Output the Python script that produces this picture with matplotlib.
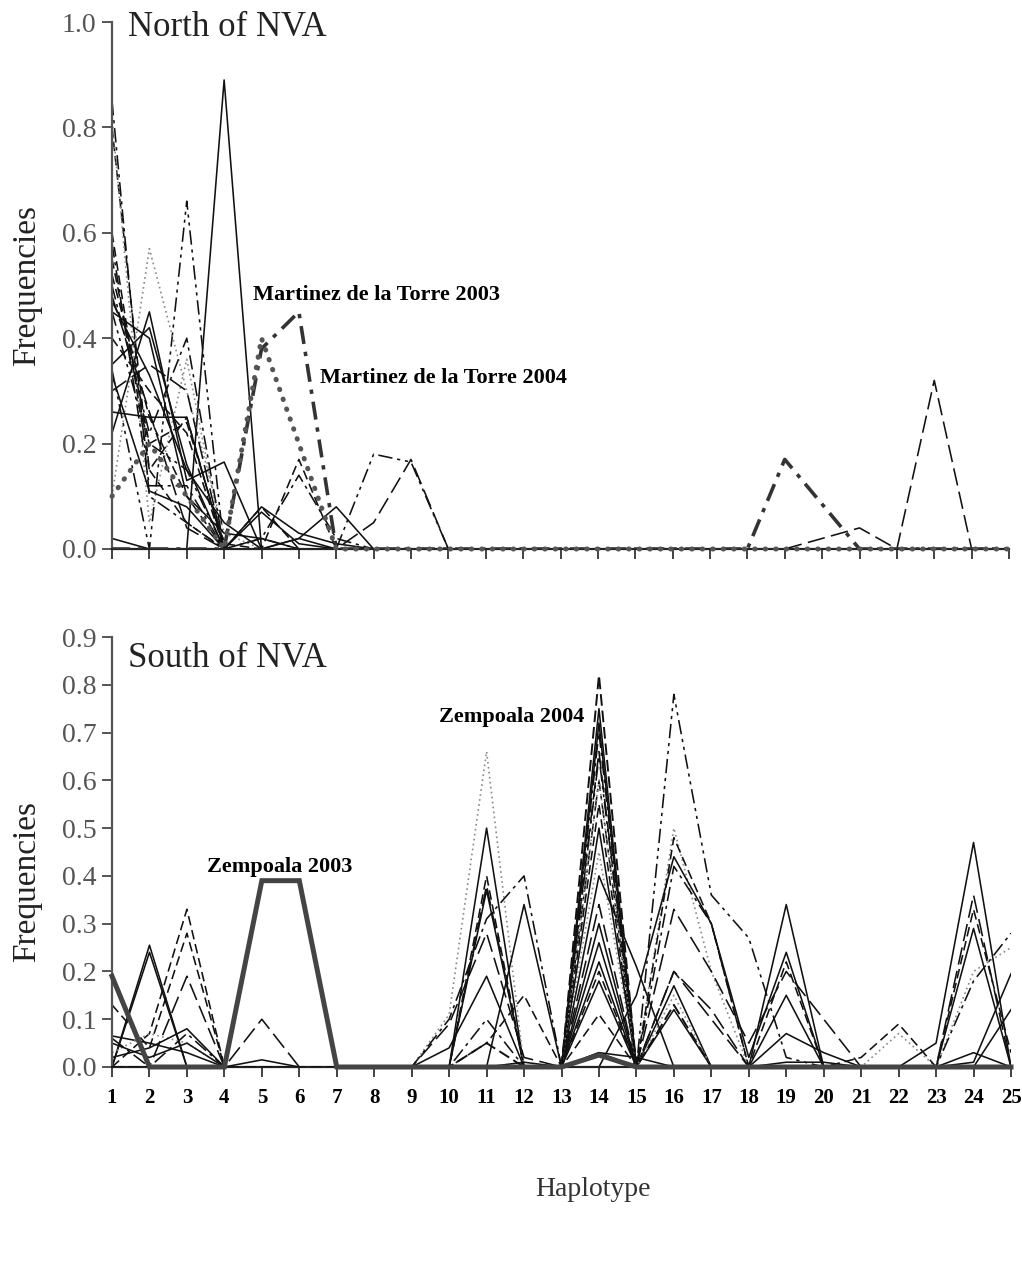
import matplotlib
matplotlib.use("Agg")
import matplotlib.pyplot as plt
import numpy as np

plt.rcParams['font.family'] = ['Liberation Serif', 'DejaVu Serif']

haplotypes = list(range(1, 26))

# ---------------- North of NVA (top panel) ----------------
n01 = [0.02, 0, 0, 0.89, 0, 0.02, 0.08, 0, 0, 0, 0, 0, 0, 0, 0, 0, 0, 0, 0, 0, 0, 0, 0, 0, 0]
n02 = [0.85, 0.10, 0.05, 0, 0, 0, 0, 0, 0, 0, 0, 0, 0, 0, 0, 0, 0, 0, 0, 0, 0, 0, 0, 0, 0]
n03 = [0.80, 0.15, 0.05, 0, 0, 0, 0, 0, 0, 0, 0, 0, 0, 0, 0, 0, 0, 0, 0, 0, 0, 0, 0, 0, 0]
n04 = [0.34, 0, 0.66, 0, 0, 0, 0, 0, 0, 0, 0, 0, 0, 0, 0, 0, 0, 0, 0, 0, 0, 0, 0, 0, 0]
n05 = [0.10, 0.57, 0.30, 0.03, 0, 0, 0, 0, 0, 0, 0, 0, 0, 0, 0, 0, 0, 0, 0, 0, 0, 0, 0, 0, 0]
n06 = [0.82, 0.05, 0.36, 0, 0, 0, 0, 0, 0, 0, 0, 0, 0, 0, 0, 0, 0, 0, 0, 0, 0, 0, 0, 0, 0]
n07 = [0.47, 0.33, 0.15, 0.05, 0, 0, 0, 0, 0, 0, 0, 0, 0, 0, 0, 0, 0, 0, 0, 0, 0, 0, 0, 0, 0]
n08 = [0.45, 0.40, 0.10, 0.03, 0.02, 0, 0, 0, 0, 0, 0, 0, 0, 0, 0, 0, 0, 0, 0, 0, 0, 0, 0, 0, 0]
n09 = [0.35, 0.42, 0.16, 0, 0.07, 0.01, 0, 0, 0, 0, 0, 0, 0, 0, 0, 0, 0, 0, 0, 0, 0, 0, 0, 0, 0]
n10 = [0.22, 0.45, 0.13, 0.165, 0, 0, 0, 0, 0, 0, 0, 0, 0, 0, 0, 0, 0, 0, 0, 0, 0, 0, 0, 0, 0]
n11 = [0.33, 0.11, 0.08, 0, 0, 0.02, 0, 0, 0, 0, 0, 0, 0, 0, 0, 0, 0, 0, 0, 0, 0, 0, 0, 0, 0]
n12 = [0.60, 0.15, 0.25, 0, 0, 0, 0, 0, 0, 0, 0, 0, 0, 0, 0, 0, 0, 0, 0, 0, 0, 0, 0, 0, 0]
n13 = [0.55, 0.20, 0.24, 0.01, 0, 0, 0, 0, 0, 0, 0, 0, 0, 0, 0, 0, 0, 0, 0, 0, 0, 0, 0, 0, 0]
n14 = [0.50, 0.22, 0.40, 0, 0, 0, 0, 0, 0, 0, 0, 0, 0, 0, 0, 0, 0, 0, 0, 0, 0, 0, 0, 0, 0]
n15 = [0.52, 0.25, 0.10, 0, 0, 0.17, 0, 0, 0, 0, 0, 0, 0, 0, 0, 0, 0, 0, 0, 0, 0, 0, 0, 0, 0]
n16 = [0.58, 0.12, 0.12, 0, 0.02, 0.14, 0.02, 0, 0, 0, 0, 0, 0, 0, 0, 0, 0, 0, 0, 0, 0, 0, 0, 0, 0]
n17 = [0.40, 0.30, 0.22, 0, 0.08, 0, 0, 0, 0, 0, 0, 0, 0, 0, 0, 0, 0, 0, 0, 0, 0, 0, 0, 0, 0]
n18 = [0.45, 0.20, 0.15, 0, 0.02, 0, 0, 0.18, 0.165, 0, 0, 0, 0, 0, 0, 0, 0, 0, 0, 0, 0, 0, 0, 0, 0]
n19 = [0.48, 0.26, 0.04, 0, 0, 0, 0, 0.05, 0.17, 0, 0, 0, 0, 0, 0, 0, 0, 0, 0, 0, 0, 0, 0, 0, 0]
n20 = [0.30, 0.35, 0.30, 0, 0, 0, 0, 0, 0, 0, 0, 0, 0, 0, 0, 0, 0, 0, 0, 0.02, 0.04, 0, 0.32, 0, 0]
n21 = [0.26, 0.25, 0.25, 0, 0.08, 0.03, 0.01, 0, 0, 0, 0, 0, 0, 0, 0, 0, 0, 0, 0, 0, 0, 0, 0, 0, 0]
martinez_2003 = [0, 0, 0, 0, 0.38, 0.45, 0, 0, 0, 0, 0, 0, 0, 0, 0, 0, 0, 0, 0.17, 0.085, 0, 0, 0, 0, 0]
martinez_2004 = [0.10, 0.20, 0.10, 0, 0.40, 0.20, 0, 0, 0, 0, 0, 0, 0, 0, 0, 0, 0, 0, 0, 0, 0, 0, 0, 0, 0]

north_series = [n01, n02, n03, n04, n05, n06, n07, n08, n09, n10, n11,
                n12, n13, n14, n15, n16, n17, n18, n19, n20, n21]
north_styles = ['solid', 'dashdot', 'dashed', 'dashdotdot', 'greydot', 'greydot', 'solid',
                'solid', 'solid', 'solid', 'solid', 'dashed', 'dashed', 'dashdot', 'dashed',
                'dashdot', 'dashed', 'dashdotdot', 'longdash', 'longdash', 'solid']

# ---------------- South of NVA (bottom panel) ----------------
s01 = [0, 0.255, 0, 0, 0, 0, 0, 0, 0, 0, 0.50, 0, 0, 0.22, 0, 0, 0, 0, 0, 0, 0, 0, 0, 0, 0]
s02 = [0, 0.24, 0, 0, 0, 0, 0, 0, 0, 0, 0, 0, 0, 0.72, 0, 0, 0, 0, 0, 0, 0, 0, 0, 0, 0]
s03 = [0, 0.07, 0.33, 0, 0, 0, 0, 0, 0, 0, 0.40, 0, 0, 0.20, 0, 0, 0, 0, 0, 0, 0, 0, 0, 0, 0]
s04 = [0.13, 0.04, 0.28, 0, 0, 0, 0, 0, 0, 0, 0, 0, 0, 0.55, 0, 0, 0, 0, 0, 0, 0, 0, 0, 0, 0]
s05 = [0, 0, 0.19, 0, 0, 0, 0, 0, 0, 0, 0.38, 0, 0, 0.34, 0, 0.20, 0.10, 0, 0, 0, 0, 0, 0, 0, 0]
s06 = [0.065, 0.05, 0.03, 0, 0, 0, 0, 0, 0, 0, 0.37, 0, 0, 0.30, 0, 0, 0, 0, 0.34, 0, 0, 0, 0, 0, 0]
s07 = [0, 0, 0, 0, 0, 0, 0, 0, 0, 0.11, 0.66, 0, 0, 0.45, 0, 0.50, 0.20, 0, 0, 0, 0, 0.07, 0, 0.20, 0.25]
s08 = [0, 0, 0, 0, 0, 0, 0, 0, 0, 0, 0, 0, 0, 0.65, 0, 0.78, 0.36, 0.27, 0.02, 0, 0, 0, 0, 0, 0]
s09 = [0, 0, 0, 0, 0, 0, 0, 0, 0, 0.04, 0.19, 0, 0, 0.26, 0, 0.12, 0, 0, 0.15, 0, 0, 0, 0, 0.29, 0]
s10 = [0, 0, 0, 0, 0, 0, 0, 0, 0, 0.10, 0.31, 0.40, 0, 0.60, 0, 0.42, 0.30, 0, 0, 0, 0, 0, 0, 0, 0]
s11 = [0, 0, 0, 0, 0, 0, 0, 0, 0, 0, 0, 0.34, 0, 0.40, 0.21, 0, 0, 0, 0, 0, 0, 0, 0, 0, 0]
s12 = [0, 0, 0, 0, 0, 0, 0, 0, 0, 0, 0.05, 0.15, 0, 0.11, 0, 0.48, 0.30, 0, 0.22, 0, 0, 0, 0, 0, 0]
s13 = [0, 0, 0, 0, 0, 0, 0, 0, 0, 0, 0, 0, 0, 0, 0.15, 0.44, 0.30, 0.02, 0.24, 0, 0, 0, 0, 0, 0]
s14 = [0, 0, 0, 0, 0, 0, 0, 0, 0, 0, 0, 0, 0, 0, 0, 0.33, 0.20, 0.05, 0.20, 0.10, 0, 0, 0, 0.36, 0]
s15 = [0, 0, 0, 0, 0, 0, 0, 0, 0, 0, 0, 0, 0, 0, 0, 0, 0, 0, 0.07, 0.03, 0, 0, 0.05, 0.47, 0]
s16 = [0, 0, 0, 0, 0, 0, 0, 0, 0, 0, 0, 0, 0, 0, 0, 0, 0, 0, 0, 0, 0.02, 0.09, 0, 0.33, 0.03]
s17 = [0, 0, 0, 0, 0, 0, 0, 0, 0, 0, 0, 0, 0, 0, 0, 0, 0, 0, 0, 0, 0, 0, 0, 0.18, 0.28]
s18 = [0, 0, 0, 0, 0, 0, 0, 0, 0, 0, 0, 0, 0, 0.75, 0, 0, 0, 0, 0, 0, 0, 0, 0, 0.01, 0.195]
s19 = [0, 0, 0, 0, 0, 0, 0, 0, 0, 0, 0, 0, 0, 0.50, 0, 0.17, 0, 0, 0, 0, 0, 0, 0, 0, 0.12]
s20 = [0, 0, 0, 0, 0, 0, 0, 0, 0, 0, 0, 0, 0, 0.66, 0, 0.20, 0.12, 0, 0, 0, 0, 0, 0, 0, 0]
s21 = [0.03, 0.07, 0.05, 0, 0, 0, 0, 0, 0, 0, 0, 0, 0, 0.60, 0, 0.15, 0, 0, 0, 0, 0, 0, 0, 0, 0]
s22 = [0.02, 0.04, 0.08, 0, 0.015, 0, 0, 0, 0, 0, 0, 0, 0, 0.18, 0, 0, 0, 0, 0, 0, 0, 0, 0, 0, 0]
s23 = [0, 0, 0, 0, 0.10, 0, 0, 0, 0, 0.09, 0.28, 0.02, 0, 0.03, 0, 0, 0, 0, 0, 0, 0, 0, 0, 0, 0]
s24 = [0.05, 0.02, 0.05, 0, 0, 0, 0, 0, 0, 0, 0, 0.01, 0, 0.03, 0.02, 0, 0, 0, 0.01, 0.01, 0, 0, 0, 0.03, 0]
s25 = [0.06, 0.0, 0.07, 0, 0, 0, 0, 0, 0, 0, 0.10, 0, 0, 0.70, 0, 0, 0, 0, 0, 0, 0, 0, 0, 0, 0]
zempoala_2003 = [0.19, 0, 0, 0, 0.39, 0.39, 0, 0, 0, 0, 0, 0, 0, 0.025, 0, 0, 0, 0, 0, 0, 0, 0, 0, 0, 0]
zempoala_2004 = [0, 0, 0, 0, 0, 0, 0, 0, 0, 0, 0.05, 0, 0, 0.82, 0, 0.13, 0, 0, 0, 0, 0, 0, 0, 0, 0]

south_series = [s01, s02, s03, s04, s05, s06, s07, s08, s09, s10, s11, s12, s13,
                s14, s15, s16, s17, s18, s19, s20, s21, s22, s23, s24, s25]
south_styles = ['solid', 'solid', 'dashed', 'dashed', 'longdash', 'solid', 'greydot',
                'dashdotdot', 'solid', 'dashdot', 'solid', 'dashed', 'solid', 'longdash',
                'solid', 'dashed', 'dashdot', 'solid', 'solid', 'longdash', 'greydot',
                'solid', 'longdash', 'solid', 'dashdot']

north_ticks = [0.0, 0.2, 0.4, 0.6, 0.8, 1.0]
south_ticks = [0.0, 0.1, 0.2, 0.3, 0.4, 0.5, 0.6, 0.7, 0.8, 0.9]

STYLES = {
    'solid': dict(color='#111111', lw=1.15, ls='-'),
    'dashed': dict(color='#111111', lw=1.15, ls=(0, (6, 3))),
    'longdash': dict(color='#111111', lw=1.15, ls=(0, (11, 4))),
    'dashdot': dict(color='#111111', lw=1.15, ls=(0, (9, 3, 2, 3))),
    'dashdotdot': dict(color='#111111', lw=1.15, ls=(0, (9, 3, 2, 3, 2, 3))),
    'greydot': dict(color='#888888', lw=1.2, ls=(0, (1, 2))),
}

fig = plt.figure(figsize=(10.22, 12.67), dpi=100)
ax1 = fig.add_axes([112/1022, 1-549/1267, (1009-112)/1022, (549-22)/1267])
ax2 = fig.add_axes([112/1022, 1-1067/1267, (1011-112)/1022, (1067-637)/1267])

for s, st in zip(north_series, north_styles):
    ax1.plot(haplotypes, s, **STYLES[st], zorder=2)
ax1.plot(haplotypes, martinez_2003, color='#333333', lw=2.6, ls=(0, (5, 2.2, 1.2, 2.2)), zorder=3)
ax1.plot(haplotypes, martinez_2004, color='#555555', lw=3.6, ls=(0, (0.1, 2.0)),
         dash_capstyle='round', zorder=4, clip_on=False)

for s, st in zip(south_series, south_styles):
    ax2.plot(haplotypes, s, **STYLES[st], zorder=2)
ax2.plot(haplotypes, zempoala_2003, color='#444444', lw=3.6, ls='-', solid_joinstyle='miter',
         zorder=4, clip_on=False)
ax2.plot(haplotypes, zempoala_2004, color='#111111', lw=1.4, ls=(0, (6, 2.5)), zorder=3)

for ax, ticks, top in ((ax1, north_ticks, 1.0), (ax2, south_ticks, 0.9)):
    ax.set_xlim(1, 25)
    ax.set_ylim(0, top)
    ax.set_xticks(haplotypes)
    ax.set_yticks(ticks)
    ax.set_yticklabels([f"{t:.1f}" for t in ticks])
    for sp in ('top', 'right'):
        ax.spines[sp].set_visible(False)
    ax.spines['left'].set_color('#555555')
    ax.spines['left'].set_linewidth(1.6)
    ax.spines['bottom'].set_color('#222222')
    ax.spines['bottom'].set_linewidth(1.6)
    ax.tick_params(axis='y', direction='out', length=7, width=1.4, color='#555555',
                   labelsize=20, labelcolor='#555555', pad=4)
    ax.tick_params(axis='x', direction='out', length=7, width=1.2, color='#222222')
    ax.set_facecolor('none')

ax1.set_xticklabels([])
ax2.set_xticklabels([str(h) for h in haplotypes], fontsize=15, fontweight='bold')
ax2.tick_params(axis='x', pad=8)

ax1.text(1.43, 0.99, "North of NVA", fontsize=25, va='center', ha='left', color='#222222')
ax2.text(1.43, 0.855, "South of NVA", fontsize=25, va='center', ha='left', color='#222222')

ax1.text(4.77, 0.482, "Martinez de la Torre 2003", fontsize=16, fontweight='bold', va='center')
ax1.text(6.56, 0.324, "Martinez de la Torre 2004", fontsize=16, fontweight='bold', va='center')
ax2.text(3.54, 0.419, "Zempoala 2003", fontsize=16, fontweight='bold', va='center')
ax2.text(9.74, 0.733, "Zempoala 2004", fontsize=16, fontweight='bold', va='center')

fig.text(27/1022, 1-285/1267, "Frequencies", rotation=90, fontsize=24, va='center', ha='center', color='#222222')
fig.text(27/1022, 1-882/1267, "Frequencies", rotation=90, fontsize=24, va='center', ha='center', color='#222222')
fig.text(593/1022, 1-1190/1267, "Haplotype", fontsize=20, va='center', ha='center', color='#333333')

fig.savefig("out.png", dpi=100)
